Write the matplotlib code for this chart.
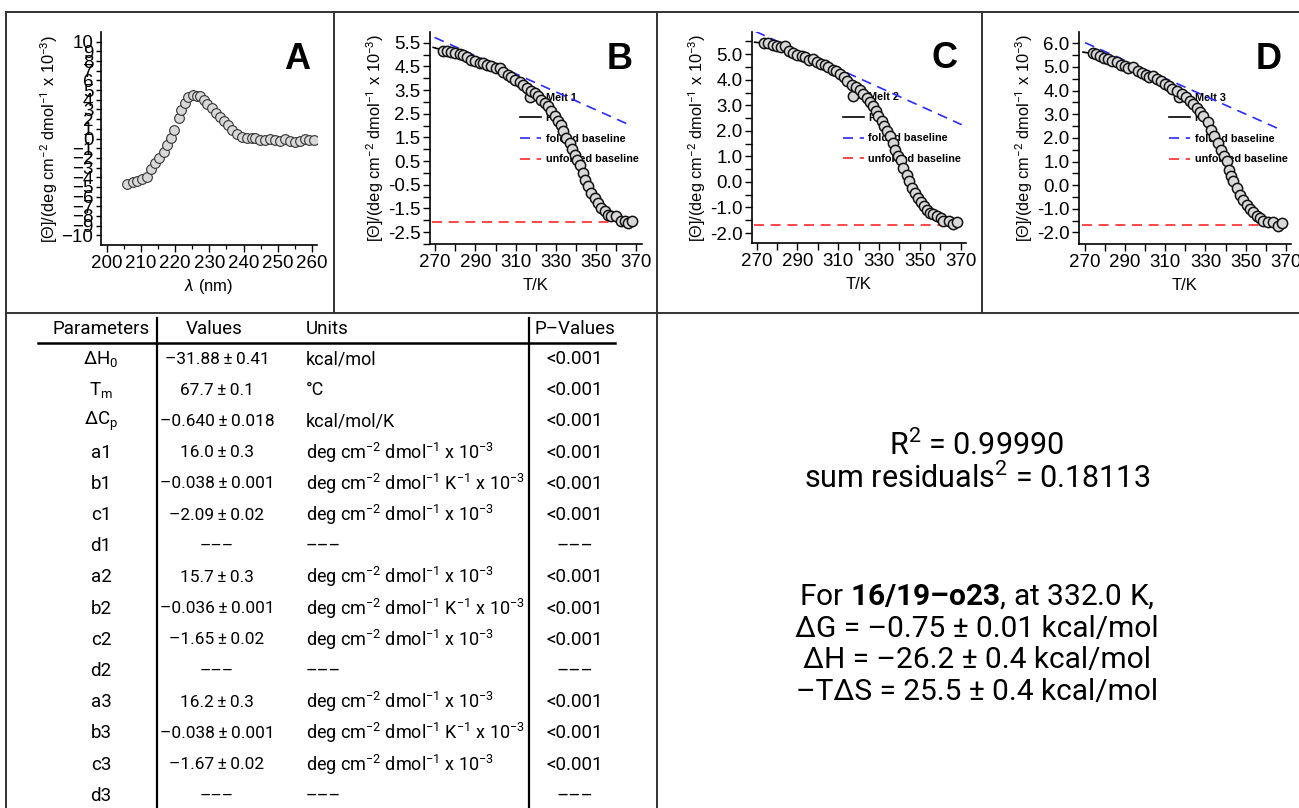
import numpy as np
import matplotlib
matplotlib.use("Agg")
from matplotlib import pyplot as plt
from matplotlib.ticker import MultipleLocator, FormatStrFormatter

plt.rcParams['font.family'] = ['Liberation Sans', 'DejaVu Sans']
plt.rcParams['mathtext.fontset'] = 'custom'
plt.rcParams['mathtext.rm'] = 'Roboto'
plt.rcParams['mathtext.it'] = 'Roboto:italic'
plt.rcParams['mathtext.bf'] = 'Roboto:bold'
plt.rcParams['axes.unicode_minus'] = True

## DATA ##
# panel A: CD spectrum
A_wl = [205.9, 207.6, 208.8, 210.2, 211.7, 212.9, 214.1, 215.4, 216.6, 217.6, 218.7, 219.7,
        221.0, 221.7, 222.9, 223.9, 225.2, 226.3, 227.3, 228.5, 229.4, 230.7, 231.9, 233.2,
        234.3, 235.6, 236.6, 238.0, 239.5, 241.0, 242.4, 243.4, 244.9, 246.3, 247.8, 249.3,
        250.7, 252.2, 253.6, 255.1, 256.6, 258.0, 259.3, 260.5]
A_theta = [-4.65, -4.47, -4.37, -4.23, -3.96, -3.20, -2.57, -2.05, -1.37, -0.67, 0.02, 0.88,
           2.09, 2.95, 3.71, 4.33, 4.47, 4.44, 4.40, 3.99, 3.58, 3.13, 2.68, 2.26,
           1.85, 1.40, 0.88, 0.47, 0.19, 0.02, 0.02, 0.09, -0.16, -0.16, -0.09, -0.16,
           -0.22, -0.09, -0.22, -0.33, -0.22, -0.09, -0.16, -0.16]

# melt 1
B_T = [273.8, 276.0, 278.0, 280.0, 282.1, 283.8, 285.9, 287.9, 289.9, 292.1, 293.7, 295.9,
       297.9, 300.0, 302.0, 303.7, 306.2, 307.8, 309.8, 312.0, 313.6, 315.8, 317.6, 319.5,
       321.1, 322.7, 324.4, 326.1, 327.7, 329.4, 331.0, 332.4, 333.5, 335.2, 336.9, 338.0,
       339.4, 340.7, 341.8, 343.5, 344.6, 346.0, 347.6, 349.3, 350.9, 352.6, 354.3, 355.9,
       357.6, 360.0, 362.2, 364.2, 365.8, 367.8]
B_theta = [5.16, 5.16, 5.11, 5.07, 5.02, 4.97, 4.88, 4.78, 4.71, 4.64, 4.63, 4.55,
           4.50, 4.43, 4.45, 4.26, 4.15, 4.04, 3.94, 3.84, 3.70, 3.59, 3.48, 3.38,
           3.24, 3.10, 2.96, 2.82, 2.61, 2.39, 2.21, 2.04, 1.76, 1.48, 1.27, 0.99,
           0.77, 0.56, 0.35, 0.00, -0.28, -0.56, -0.84, -1.05, -1.26, -1.47, -1.61, -1.76,
           -1.83, -1.83, -2.04, -2.01, -2.11, -2.04]
B_fitT = [269, 275, 280, 285, 290, 295, 300, 305, 310, 315, 320, 325, 330, 335, 340, 345, 350, 355, 360, 365, 368]
B_fit = [5.30, 5.15, 5.05, 4.92, 4.74, 4.58, 4.42, 4.22, 3.96, 3.64, 3.30, 2.88, 2.32, 1.52, 0.62,
         -0.33, -1.15, -1.67, -1.92, -2.03, -2.06]
B_fold = ([269.7, 367.8], [5.72, 1.98])
B_unfold = ([268.5, 368.5], [-2.09, -2.09])

# melt 2
C_T = [273.6, 275.7, 277.8, 279.8, 281.8, 283.9, 286.0, 287.9, 289.9, 292.1, 293.7, 295.8,
       297.7, 299.4, 301.4, 303.5, 305.1, 307.3, 308.9, 310.8, 312.8, 314.4, 316.6, 318.7,
       320.6, 322.3, 323.9, 325.5, 326.9, 328.5, 329.6, 331.3, 332.4, 333.7, 335.4, 336.7,
       337.8, 339.4, 340.6, 341.9, 343.6, 344.8, 346.0, 347.6, 349.2, 350.4, 352.0, 353.6,
       355.0, 356.6, 358.2, 360.2, 361.5, 364.4, 366.4, 368.3]
C_theta = [5.44, 5.44, 5.38, 5.31, 5.27, 5.31, 5.12, 5.05, 4.96, 4.92, 4.88, 4.79,
           4.83, 4.70, 4.62, 4.57, 4.49, 4.40, 4.33, 4.23, 4.10, 3.94, 3.81, 3.71,
           3.58, 3.45, 3.29, 3.13, 2.97, 2.77, 2.58, 2.38, 2.18, 1.99, 1.79, 1.53,
           1.27, 1.01, 0.84, 0.55, 0.29, 0.03, -0.23, -0.42, -0.62, -0.78, -0.94, -1.08,
           -1.21, -1.27, -1.34, -1.43, -1.53, -1.51, -1.66, -1.56]
C_fitT = [269, 275, 280, 285, 290, 295, 300, 305, 310, 315, 320, 325, 330, 335, 340, 345, 350, 355, 360, 365, 368]
C_fit = [5.47, 5.42, 5.32, 5.18, 4.99, 4.82, 4.68, 4.50, 4.27, 3.93, 3.62, 3.18, 2.55, 1.83, 0.95,
         0.00, -0.72, -1.18, -1.44, -1.57, -1.62]
C_fold = ([269.5, 370.5], [5.89, 2.24])
C_unfold = ([268.5, 368.5], [-1.68, -1.68])

# melt 3
D_T = [274.1, 275.3, 277.5, 279.6, 281.6, 283.6, 285.8, 287.9, 289.9, 291.6, 294.1, 296.3,
       298.3, 300.2, 301.9, 304.0, 305.7, 307.9, 309.9, 311.9, 313.5, 315.7, 318.2, 320.2,
       322.4, 324.0, 325.7, 327.3, 329.0, 331.1, 332.8, 334.4, 336.1, 337.8, 339.4, 340.6,
       341.7, 342.8, 343.9, 345.6, 347.2, 348.9, 350.6, 352.2, 353.9, 355.6, 357.2, 358.8,
       361.0, 363.8, 366.0, 368.0]
D_theta = [5.59, 5.55, 5.45, 5.38, 5.34, 5.26, 5.20, 5.09, 5.03, 4.95, 4.98, 4.84,
           4.74, 4.67, 4.56, 4.60, 4.50, 4.39, 4.28, 4.18, 4.08, 3.97, 3.85, 3.71,
           3.57, 3.43, 3.26, 3.09, 2.91, 2.67, 2.34, 2.06, 1.78, 1.50, 1.22, 1.01,
           0.65, 0.40, 0.16, -0.12, -0.41, -0.62, -0.83, -1.00, -1.15, -1.30, -1.39, -1.51,
           -1.58, -1.56, -1.74, -1.60]
D_fitT = [269, 275, 280, 285, 290, 295, 300, 305, 310, 315, 320, 325, 330, 335, 340, 345, 350, 355, 360, 365, 368]
D_fit = [5.63, 5.55, 5.38, 5.22, 5.03, 4.87, 4.68, 4.52, 4.28, 4.00, 3.72, 3.33, 2.80, 1.97, 1.10,
         0.00, -0.72, -1.22, -1.50, -1.63, -1.67]
D_fold = ([270.0, 367.9], [6.03, 2.33])
D_unfold = ([268.5, 368.5], [-1.69, -1.69])

# table
params = ['ΔH$_0$', r'T$_\mathrm{m}$', r'ΔC$_\mathrm{p}$', 'a1', 'b1', 'c1', 'd1', 'a2', 'b2', 'c2', 'd2',
          'a3', 'b3', 'c3', 'd3']
values = ['–31.88 ± 0.41', '67.7 ± 0.1', '–0.640 ± 0.018', '16.0 ± 0.3', '–0.038 ± 0.001',
          '–2.09 ± 0.02', '–––', '15.7 ± 0.3', '–0.036 ± 0.001', '–1.65 ± 0.02', '–––',
          '16.2 ± 0.3', '–0.038 ± 0.001', '–1.67 ± 0.02', '–––']
U1 = r'deg cm$^{-2}$ dmol$^{-1}$ x 10$^{-3}$'
U2 = r'deg cm$^{-2}$ dmol$^{-1}$ K$^{-1}$ x 10$^{-3}$'
units = ['kcal/mol', '°C', 'kcal/mol/K', U1, U2, U1, '–––', U1, U2, U1, '–––', U1, U2, U1, '–––']
pvals = ['<0.001'] * 6 + ['–––'] + ['<0.001'] * 3 + ['–––'] + ['<0.001'] * 3 + ['–––']

fit_lines = [r'R$^2$ = 0.99990', r'sum residuals$^2$ = 0.18113']
thermo_lines = [r'For $\mathbf{16/19–o23}$, at 332.0 K,', 'ΔG = –0.75 ± 0.01 kcal/mol',
                'ΔH = –26.2 ± 0.4 kcal/mol', '–TΔS = 25.5 ± 0.4 kcal/mol']

W, H = 1299, 808
fig = plt.figure(figsize=(W / 100, H / 100), dpi=100)

def px_axes(x0, y0, x1, y1):
    return fig.add_axes([x0 / W, 1 - y1 / H, (x1 - x0) / W, (y1 - y0) / H])

ylab = r'[Θ]/(deg cm$^{-2}$ dmol$^{-1}$ x 10$^{-3}$)'
sans = ['Roboto', 'DejaVu Sans']

def style(ax):
    for s in ['top', 'right']:
        ax.spines[s].set_visible(False)
    for s in ['left', 'bottom']:
        ax.spines[s].set_linewidth(1.2)
    ax.tick_params(which='major', direction='out', length=5, width=1.0, labelsize=13.5, pad=2)
    ax.tick_params(which='minor', direction='out', length=3, width=0.9)
    ax.patch.set_alpha(0)

# background layer with frame lines
bg = fig.add_axes([0, 0, 1, 1])
bg.set_xlim(0, W)
bg.set_ylim(H, 0)
bg.axis('off')
lc = '#333333'
bg.plot([6, W], [12, 12], color=lc, lw=1.4)
bg.plot([6, 6], [12, H], color=lc, lw=1.4)
bg.plot([6, W], [313, 313], color=lc, lw=1.4)
for xv in [334, 657, 982]:
    bg.plot([xv, xv], [12, 313], color=lc, lw=1.4)
bg.plot([657, 657], [313, H], color=lc, lw=1.4)

# panel A
axA = px_axes(101, 32, 317, 245)
axA.plot(A_wl, A_theta, 'o', ms=7.0, mfc='#d8d8d8', mec='#333333', mew=0.8, zorder=3)
axA.set_xlim(198.3, 261.5)
axA.set_ylim(-11.0, 11.0)
axA.xaxis.set_major_locator(MultipleLocator(10))
axA.xaxis.set_minor_locator(MultipleLocator(5))
axA.set_yticks(np.arange(-10, 11, 1))
axA.set_yticklabels([str(v).replace('-', '−') for v in range(-10, 11)])
style(axA)
axA.tick_params(axis='y', length=3.5)
axA.set_xlabel(r'$\lambda$ (nm)', fontsize=12, labelpad=4)
axA.set_ylabel(ylab, fontsize=11.8, labelpad=1)
axA.text(0.968, 0.955, 'A', transform=axA.transAxes, ha='right', va='top', fontsize=26, fontweight='bold')

melts = [
    ('B', 'Melt 1', (430, 32, 642, 244), B_T, B_theta, B_fitT, B_fit, B_fold, B_unfold, (267.4, 372.8), (-3.0, 5.95), 5.5, -2.5),
    ('C', 'Melt 2', (752, 32, 966, 243), C_T, C_theta, C_fitT, C_fit, C_fold, C_unfold, (267.7, 372.6), (-2.39, 5.87), 5.0, -2.0),
    ('D', 'Melt 3', (1079, 32, 1291, 244), D_T, D_theta, D_fitT, D_fit, D_fold, D_unfold, (267.0, 372.6), (-2.49, 6.48), 6.0, -2.0),
]

for letter, mlab, box, T, th, fT, fv, fold, unfold, xl, yl, ytop, ybot in melts:
    ax = px_axes(*box)
    ax.plot(T, th, 'o', ms=7.4, mfc='#d8d8d8', mec='#111111', mew=1.1, zorder=4, label=mlab)
    ax.plot(fT, fv, '-', color='black', lw=1.2, zorder=3, label='Fit')
    ax.plot(fold[0], fold[1], color='#2b2bff', lw=1.2, dashes=(6, 4), zorder=2, label='folded baseline')
    ax.plot(unfold[0], unfold[1], color='#ff2a2a', lw=1.2, dashes=(6, 4), zorder=2, label='unfolded baseline')
    ax.set_xlim(*xl)
    ax.set_ylim(*yl)
    ax.set_xticks(np.arange(270, 371, 20))
    ax.xaxis.set_minor_locator(MultipleLocator(10))
    ax.set_yticks(np.arange(ybot, ytop + 0.01, 1.0))
    ax.yaxis.set_minor_locator(MultipleLocator(0.5))
    ax.yaxis.set_major_formatter(FormatStrFormatter('%.1f'))
    style(ax)
    ax.tick_params(which='minor', length=5, width=1.0)
    ax.set_xlabel('T/K', fontsize=12, labelpad=5)
    ax.set_ylabel(ylab, fontsize=11.8, labelpad=1)
    ax.text(0.958, 0.955, letter, transform=ax.transAxes, ha='right', va='top', fontsize=26, fontweight='bold')
    leg = ax.legend(loc='upper left', bbox_to_anchor=(0.405, 0.735), frameon=False,
                    prop=dict(family='Liberation Sans', weight='bold', size=7.8),
                    handlelength=1.9, handletextpad=0.45, labelspacing=0.98, numpoints=1,
                    borderaxespad=0)
    leg.set_zorder(1)

# table
ty0, tstep = 359, 31.2
tfs = 13.5
bg.text(101, 329, 'Parameters', ha='center', va='center', fontsize=tfs, family=sans)
bg.text(214, 329, 'Values', ha='center', va='center', fontsize=tfs, family=sans)
bg.text(306, 329, 'Units', ha='left', va='center', fontsize=tfs, family=sans)
bg.text(575, 329, 'P–Values', ha='center', va='center', fontsize=tfs, family=sans)
bg.plot([38, 615], [343, 343], color='black', lw=1.8)
bg.plot([157, 157], [318, H], color='black', lw=1.6)
bg.plot([529, 529], [318, H], color='black', lw=1.6)
for i in range(len(params)):
    yy = ty0 + i * tstep
    bg.text(101, yy, params[i], ha='center', va='center', fontsize=tfs, family=sans)
    bg.text(217, yy, values[i].replace(' ± ', '\u2009±\u2009'), ha='center', va='center',
            fontsize=12.4, family=sans)
    bg.text(306, yy, units[i], ha='left', va='center', fontsize=13, family=sans)
    bg.text(575, yy, pvals[i], ha='center', va='center', fontsize=tfs, family=sans)

# right text block
for j, s in enumerate(fit_lines):
    bg.text(977, 445 + j * 33, s, ha='center', va='center', fontsize=22, family=sans)
for j, s in enumerate(thermo_lines):
    bg.text(977, 597 + j * 31.7, s, ha='center', va='center', fontsize=21.5, family=sans)

fig.savefig('out.png', dpi=100)
